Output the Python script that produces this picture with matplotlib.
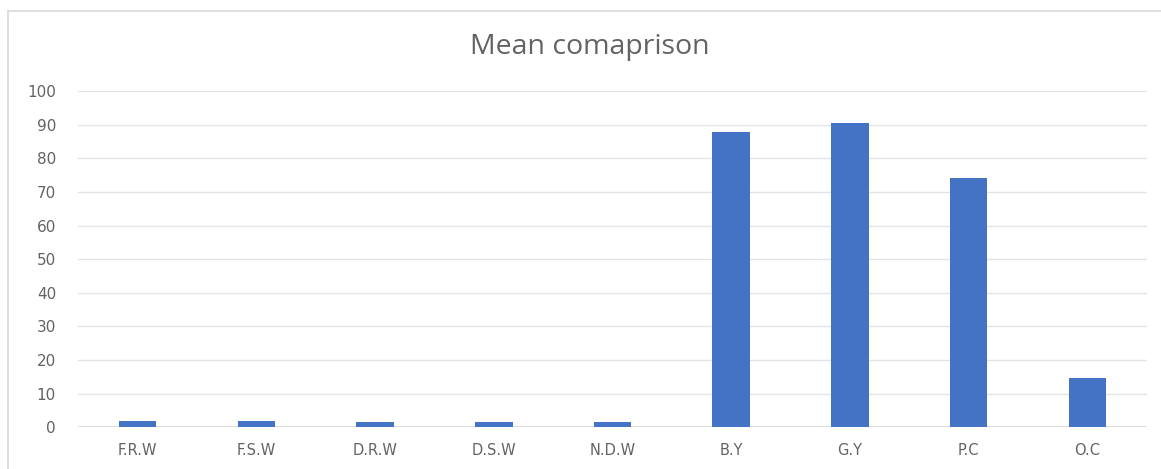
import numpy as np
import matplotlib.pyplot as plt
from matplotlib.lines import Line2D

categories = ["F.R.W", "F.S.W", "D.R.W", "D.S.W", "N.D.W", "B.Y", "G.Y", "P.C", "O.C"]
means = [2.0, 2.0, 1.5, 1.5, 1.5, 87.8, 90.5, 74.2, 14.8]
yticks = list(range(0, 101, 10))

plt.rcParams["font.family"] = ["DejaVu Sans"]
text_gray = "#636363"

fig = plt.figure(figsize=(11.61, 4.69), dpi=100)
ax = fig.add_axes([0.0674, 0.0889, 0.9203, 0.7171])

x = np.arange(len(categories))
ax.bar(x, means, width=0.316, color="#4472C4", zorder=3)

ax.set_xlim(-0.5, len(categories) - 0.5)
ax.set_ylim(0, 100)
ax.set_yticks(yticks)
ax.set_xticks(x)
ax.set_xticklabels(categories)
ax.grid(axis="y", color="#e4e4e4", linewidth=1.0, zorder=0)
ax.axhline(0, color="#d9d9d9", linewidth=1.2, zorder=2)

for side in ["top", "right", "left", "bottom"]:
    ax.spines[side].set_visible(False)
ax.tick_params(axis="both", length=0, colors=text_gray)
ax.tick_params(axis="y", pad=16, labelsize=11)
ax.tick_params(axis="x", pad=11, labelsize=10.5)

fig.text(0.508, 0.9, "Mean comaprison", ha="center", va="center",
         fontsize=20.5, color=text_gray, family=["Open Sans", "DejaVu Sans"])

# chart area outline (top and left edges)
fig.add_artist(Line2D([0.007, 1.0], [0.977, 0.977], color="#d9d9d9", linewidth=1.2))
fig.add_artist(Line2D([0.007, 0.007], [0.0, 0.977], color="#d9d9d9", linewidth=1.2))

fig.savefig("out.png", dpi=100, facecolor="white")
